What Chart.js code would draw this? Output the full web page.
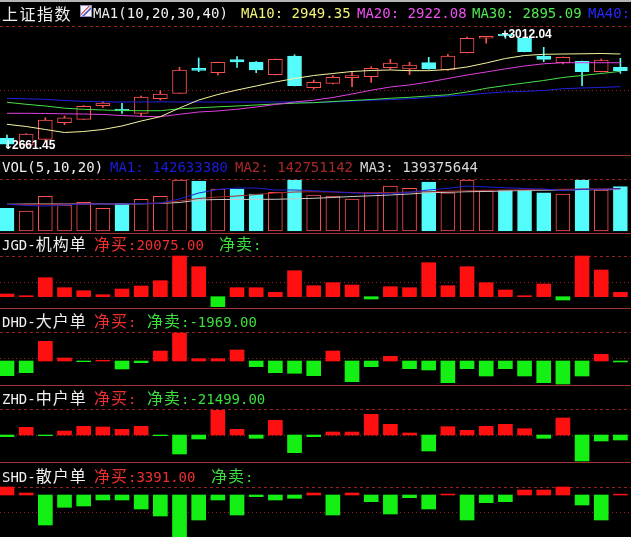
<!DOCTYPE html>
<html>
<head>
<meta charset="utf-8">
<script src="https://cdn.jsdelivr.net/npm/chart.js@4/dist/chart.umd.min.js"></script>
<style>
  html, body { margin: 0; padding: 0; background: #000; }
  #wrap { position: relative; width: 631px; height: 537px; background: #000; overflow: hidden; }
  canvas { position: absolute; left: 0; }
  .sep { position: absolute; left: 0; width: 631px; height: 1px; background: #a03232; z-index: 3; }
  .row { position: absolute; left: 0; width: 631px; height: 20px; line-height: 20px; white-space: nowrap; z-index: 5; }
  .row > span { position: absolute; top: 0; font: 14px "DejaVu Sans Mono", "Noto Sans CJK SC", monospace; line-height: 20px; }
  .c { font: 16px "Noto Sans CJK SC", sans-serif; letter-spacing: 1px; line-height: 20px; }
  .w { color: #f0f0f0; }
  .buy { color: #f03030; }
  .sell { color: #3ce03c; }
  #icon { position: absolute; left: 80px; top: 5px; width: 10px; height: 10px; z-index: 5;
    background: linear-gradient(135deg, #f4f4ff 35%, #d03030 42%, #f4f4ff 50%, #3030c0 62%, #f4f4ff 70%);
    border: 1px solid #9090c0; }
</style>
</head>
<body>
<div id="wrap">
  <div class="sep" style="top:0;height:2px;background:#b4b4b4"></div>

  <canvas id="cMain" width="631" height="155" style="top:0"></canvas>
  <canvas id="cVol" width="631" height="77" style="top:156px"></canvas>
  <canvas id="cJgd" width="631" height="74" style="top:234px"></canvas>
  <canvas id="cDhd" width="631" height="76" style="top:309px"></canvas>
  <canvas id="cZhd" width="631" height="76" style="top:386px"></canvas>
  <canvas id="cShd" width="631" height="74" style="top:463px"></canvas>

  <div class="sep" style="top:155px"></div>
  <div class="sep" style="top:233px"></div>
  <div class="sep" style="top:308px"></div>
  <div class="sep" style="top:385px"></div>
  <div class="sep" style="top:462px"></div>

  <div class="row" style="top:3px">
    <span class="w" style="left:2px"><span class="c" style="letter-spacing:1.5px">上证指数</span></span>
    <span class="w" style="left:93px">MA1(10,20,30,40)</span>
    <span style="left:241px;color:#f4f478">MA10: 2949.35</span>
    <span style="left:357px;color:#f050f0">MA20: 2922.08</span>
    <span style="left:472px;color:#50e850">MA30: 2895.09</span>
    <span style="left:588px;color:#2828ff">MA40: 2847.10</span>
  </div>
  <div id="icon"></div>

  <div class="row" style="top:157px">
    <span class="w" style="left:2px">VOL(5,10,20)</span>
    <span style="left:110px;color:#1c1cd8">MA1: 142633380</span>
    <span style="left:235px;color:#a82828">MA2: 142751142</span>
    <span style="left:360px;color:#d8d8d8">MA3: 139375644</span>
  </div>

  <div class="row" style="top:233px">
    <span class="w" style="left:2px">JGD-<span class="c">机构单</span></span>
    <span class="buy" style="left:94px"><span class="c">净买</span>:20075.00</span>
    <span class="sell" style="left:219px"><span class="c">净卖</span>:</span>
  </div>
  <div class="row" style="top:310px">
    <span class="w" style="left:2px">DHD-<span class="c">大户单</span></span>
    <span class="buy" style="left:94px"><span class="c">净买</span>:</span>
    <span class="sell" style="left:147px"><span class="c">净卖</span>:-1969.00</span>
  </div>
  <div class="row" style="top:387px">
    <span class="w" style="left:2px">ZHD-<span class="c">中户单</span></span>
    <span class="buy" style="left:94px"><span class="c">净买</span>:</span>
    <span class="sell" style="left:147px"><span class="c">净卖</span>:-21499.00</span>
  </div>
  <div class="row" style="top:465px">
    <span class="w" style="left:2px">SHD-<span class="c">散户单</span></span>
    <span class="buy" style="left:94px"><span class="c">净买</span>:3391.00</span>
    <span class="sell" style="left:211px"><span class="c">净卖</span>:</span>
  </div>
</div>

<script>
/* ── DATA (33 trading days) ── */
const open  = [2685.6, 2664.6, 2682.4, 2734.4, 2745.0, 2787.6, 2773.2, 2763.8, 2809.5, 2826.4, 2900.6, 2890.9, 2931.6, 2924.4, 2884.6, 2943.2, 2843.9, 2857.7, 2875.6, 2878.4, 2906.5, 2902.5, 2922.2, 2899.4, 2953.5, 2998.6, 3007.7, 2998.6, 2943.2, 2922.2, 2926.6, 2894.0, 2907.8];
const high  = [2695.9, 2700.6, 2750.0, 2755.4, 2788.2, 2801.4, 2795.1, 2818.0, 2834.6, 2907.8, 2936.9, 2924.4, 2941.0, 2926.0, 2933.8, 2947.2, 2868.0, 2881.5, 2892.1, 2909.7, 2932.8, 2923.5, 2939.1, 2948.5, 3002.6, 3004.2, 3012.04, 2999.2, 2970.4, 2939.5, 2927.5, 2933.8, 2936.0];
const low   = [2661.45, 2663.0, 2674.9, 2728.1, 2744.4, 2782.6, 2763.8, 2756.3, 2805.4, 2825.8, 2894.0, 2883.7, 2907.8, 2890.9, 2883.7, 2849.3, 2838.9, 2855.5, 2847.1, 2860.8, 2901.5, 2884.6, 2901.5, 2898.4, 2952.6, 2983.0, 2998.6, 2956.0, 2925.3, 2918.1, 2850.2, 2893.1, 2889.0];
const close = [2666.8, 2699.0, 2742.8, 2750.0, 2785.7, 2796.1, 2771.0, 2814.8, 2824.2, 2899.4, 2898.4, 2923.5, 2924.4, 2899.4, 2932.8, 2850.2, 2860.8, 2876.5, 2877.4, 2904.7, 2921.3, 2915.0, 2902.5, 2943.2, 2998.6, 3003.6, 3005.8, 2956.6, 2932.8, 2939.1, 2894.0, 2930.7, 2897.2];

const ma10 = [2729.4, 2722.5, 2713.1, 2703.7, 2706.8, 2713.1, 2724.1, 2739.7, 2753.2, 2780.4, 2805.4, 2822.7, 2836.7, 2849.3, 2861.8, 2872.7, 2882.1, 2888.4, 2894.7, 2897.8, 2899.4, 2897.2, 2897.2, 2900.9, 2908.7, 2921.3, 2935.3, 2944.7, 2948.5, 2949.4, 2950.1, 2951.0, 2949.35];
const ma20 = [2763.8, 2763.8, 2763.2, 2762.2, 2761.6, 2760.1, 2756.9, 2754.4, 2753.2, 2760.7, 2767.9, 2771.1, 2776.6, 2783.5, 2791.4, 2799.2, 2804.8, 2813.3, 2824.2, 2836.1, 2846.1, 2852.4, 2861.8, 2872.7, 2883.7, 2893.1, 2903.1, 2911.9, 2918.8, 2922.1, 2922.1, 2922.1, 2922.08];
const ma30 = [2798.2, 2792.0, 2786.7, 2779.8, 2776.3, 2774.1, 2772.6, 2771.9, 2771.9, 2777.9, 2781.0, 2784.1, 2786.7, 2789.8, 2792.9, 2795.4, 2797.0, 2800.8, 2803.9, 2807.0, 2810.8, 2813.9, 2818.0, 2821.7, 2830.5, 2842.1, 2850.8, 2858.7, 2866.5, 2875.9, 2882.1, 2888.4, 2895.09];
const ma40 = [2810.8, 2809.2, 2807.6, 2803.9, 2801.4, 2799.8, 2799.2, 2799.2, 2799.8, 2799.2, 2799.2, 2799.2, 2799.2, 2799.2, 2799.2, 2799.2, 2797.6, 2799.2, 2802.3, 2804.8, 2806.7, 2809.5, 2813.3, 2818.0, 2821.7, 2826.7, 2830.5, 2832.7, 2835.2, 2840.8, 2843.0, 2844.9, 2847.1];

// volume, millions of shares
const vol = [76.5, 67.4, 117.0, 87.7, 96.8, 76.5, 93.4, 106.9, 117.0, 172.0, 168.6, 141.6, 141.6, 124.8, 130.5, 172.0, 121.4, 118.0, 107.9, 127.1, 151.7, 144.0, 165.2, 129.1, 172.0, 135.9, 138.3, 138.3, 129.1, 124.8, 172.0, 138.3, 149.4];
const volMa5  = [90.0, 86.0, 84.3, 87.7, 91.0, 91.0, 91.0, 92.7, 94.4, 107.9, 128.1, 139.9, 145.0, 145.0, 138.3, 138.3, 135.9, 132.2, 128.1, 127.1, 125.4, 130.5, 138.3, 144.0, 151.7, 148.4, 146.0, 143.0, 141.6, 136.6, 140.6, 140.6, 142.6];
const volMa10 = [90.0, 89.4, 89.4, 90.0, 91.0, 91.0, 91.0, 92.1, 93.4, 101.2, 109.6, 114.6, 118.0, 123.1, 128.1, 131.5, 132.5, 131.5, 129.8, 129.1, 129.8, 131.5, 132.5, 134.2, 135.9, 137.2, 138.3, 138.9, 139.9, 140.6, 141.6, 142.3, 142.75];
const volMa20 = [90.0, 91.0, 91.0, 91.0, 91.0, 91.7, 91.0, 91.7, 93.4, 96.1, 104.5, 106.2, 106.2, 106.9, 106.9, 108.6, 110.3, 113.0, 116.3, 118.7, 121.4, 124.8, 129.1, 130.5, 132.5, 133.2, 134.9, 136.6, 137.6, 138.3, 138.9, 139.6, 139.4];

// net flows per order size
const jgd = [12400, 4600, 87400, 41400, 27600, 9200, 35400, 49200, 73600, 187200, 138000, -46000, 41400, 41400, 20200, 119600, 50600, 64400, 53800, -10600, 46000, 41400, 156400, 50600, 138000, 64400, 30800, 4600, 58400, -15200, 187200, 122800, 20075];
const dhd = [-29400, -23400, 39400, 6000, -1400, 1400, -16000, -3400, 20000, 56000, 4600, 4600, 22000, -11400, -23400, -24600, -29400, 20000, -41400, -11400, 9400, -15400, -18000, -43400, -15400, -30000, -15400, -30000, -43400, -46000, -30000, 13400, -1969];
const zhd = [-7300, 33100, -3000, 17200, 37400, 34400, 24500, 37400, -3000, -81700, -17200, 106200, 24500, -14200, 63200, -76100, -7300, 12900, 12900, 89000, 46000, 8600, -68800, 35700, 20200, 37400, 46000, 27100, -14200, 73100, -111800, -25800, -21499];
const shd = [32000, 8000, -120000, -49200, -44000, -20000, -20000, -56000, -84000, -170000, -100000, -20000, -80000, -6800, -20000, -13200, 8000, -80000, 8000, -26800, -76000, -10800, -56000, 4000, -100000, -30800, -26800, 20000, 20000, 32000, -40000, -100000, 3391];

/* ── STYLE ── */
const RED = '#ff5050', CYAN = '#54fcfc', BAR_RED = '#ff1010', BAR_GREEN = '#14f014';
const GRID_RED = '#9a2020';
const X_MIN = -0.3652, X_MAX = 32.553;

const days = open.map((v, i) => i);
const isUp = close.map((c, i) => c >= open[i]);
const pts = arr => arr.map((v, i) => ({ x: i, y: v }));

function guideLines(lines) {
  return {
    id: 'guides',
    beforeDatasetsDraw(chart) {
      const { ctx, chartArea, scales } = chart;
      ctx.save();
      ctx.strokeStyle = GRID_RED;
      ctx.lineWidth = 1;
      lines.forEach(l => {
        const py = Math.round(scales.y.getPixelForValue(l.v)) + 0.5;
        ctx.setLineDash(l.dash);
        ctx.beginPath();
        ctx.moveTo(chartArea.left, py);
        ctx.lineTo(chartArea.right, py);
        ctx.stroke();
      });
      ctx.restore();
    }
  };
}

function opts(yMin, yMax) {
  return {
    responsive: false,
    animation: false,
    events: [],
    layout: { padding: 0 },
    plugins: { legend: { display: false }, tooltip: { enabled: false } },
    scales: {
      x: { type: 'linear', min: X_MIN, max: X_MAX, offset: false, display: false },
      y: { min: yMin, max: yMax, display: false }
    }
  };
}

function maLine(arr, color) {
  return { type: 'line', data: pts(arr), borderColor: color, borderWidth: 1, pointRadius: 0, tension: 0, order: 0 };
}

/* high / low markers */
const extremes = {
  id: 'extremes',
  afterDatasetsDraw(chart) {
    const { ctx, scales } = chart;
    const hi = high.indexOf(Math.max(...high));
    const lo = low.indexOf(Math.min(...low));
    ctx.save();
    ctx.font = 'bold 12px "Liberation Sans", Arial, sans-serif';
    ctx.fillStyle = '#ffffff';
    ctx.textBaseline = 'middle';
    ctx.fillText('+' + high[hi].toFixed(2), scales.x.getPixelForValue(hi) - 4, scales.y.getPixelForValue(high[hi]) + 1);
    ctx.font = 'bold 12px "DejaVu Sans", sans-serif';
    ctx.fillText('↓', scales.x.getPixelForValue(lo) - 4, scales.y.getPixelForValue(low[lo]));
    ctx.font = 'bold 12px "Liberation Sans", Arial, sans-serif';
    ctx.fillText(low[lo].toFixed(2), scales.x.getPixelForValue(lo) + 5, scales.y.getPixelForValue(low[lo]));
    ctx.restore();
  }
};

/* ── MAIN K-LINE ── */
new Chart(document.getElementById('cMain'), {
  type: 'bar',
  data: {
    datasets: [
      maLine(ma10, '#f4f4a0'),
      maLine(ma20, '#e040e0'),
      maLine(ma30, '#48e048'),
      maLine(ma40, '#2020e0'),
      {
        type: 'bar', order: 1, grouped: false,
        data: days.map(i => ({ x: i, y: [open[i], close[i]] })),
        barThickness: 14, minBarLength: 2, borderWidth: 1, borderSkipped: false,
        backgroundColor: isUp.map(u => u ? '#000000' : CYAN),
        borderColor: isUp.map(u => u ? RED : CYAN)
      },
      {
        type: 'bar', order: 2, grouped: false,
        data: days.map(i => ({ x: i, y: [low[i], high[i]] })),
        barThickness: 1,
        backgroundColor: isUp.map(u => u ? RED : CYAN)
      }
    ]
  },
  options: opts(2633.27, 3118.47),
  plugins: [guideLines([{ v: 3037.1, dash: [3, 3] }, { v: 2836.7, dash: [1, 3] }]), extremes]
});

/* ── VOLUME ── */
new Chart(document.getElementById('cVol'), {
  type: 'bar',
  data: {
    datasets: [
      maLine(volMa5, '#2020d0'),
      maLine(volMa10, '#a02828'),
      maLine(volMa20, '#c8c8c8'),
      {
        type: 'bar', order: 1, grouped: false,
        data: pts(vol),
        barThickness: 14, borderWidth: 1, borderSkipped: false,
        backgroundColor: isUp.map(u => u ? '#000000' : CYAN),
        borderColor: isUp.map(u => u ? RED : CYAN)
      }
    ]
  },
  options: opts(-6.744, 252.9),
  plugins: [guideLines([{ v: 175.3, dash: [3, 3] }])]
});

/* ── ORDER FLOW PANELS ── */
function flowChart(id, values, yMin, yMax, lines) {
  new Chart(document.getElementById(id), {
    type: 'bar',
    data: {
      datasets: [{
        data: pts(values),
        barThickness: 14, borderWidth: 0,
        backgroundColor: values.map(v => v >= 0 ? BAR_RED : BAR_GREEN)
      }]
    },
    options: opts(yMin, yMax),
    plugins: [guideLines(lines)]
  });
}

flowChart('cJgd', jgd, -51980, 288420, [{ v: 187220, dash: [3, 3] }, { v: 69000, dash: [1, 3] }]);
flowChart('cDhd', dhd, -48000, 104000, [{ v: 58000, dash: [3, 3] }, { v: 5400, dash: [1, 3] }]);
flowChart('cZhd', zhd, -116100, 210700, [{ v: 111800, dash: [3, 3] }, { v: 0, dash: [1, 3] }]);
flowChart('cShd', shd, -168000, 128000, [{ v: 32000, dash: [3, 3] }, { v: -68000, dash: [1, 3] }]);
</script>
</body>
</html>
